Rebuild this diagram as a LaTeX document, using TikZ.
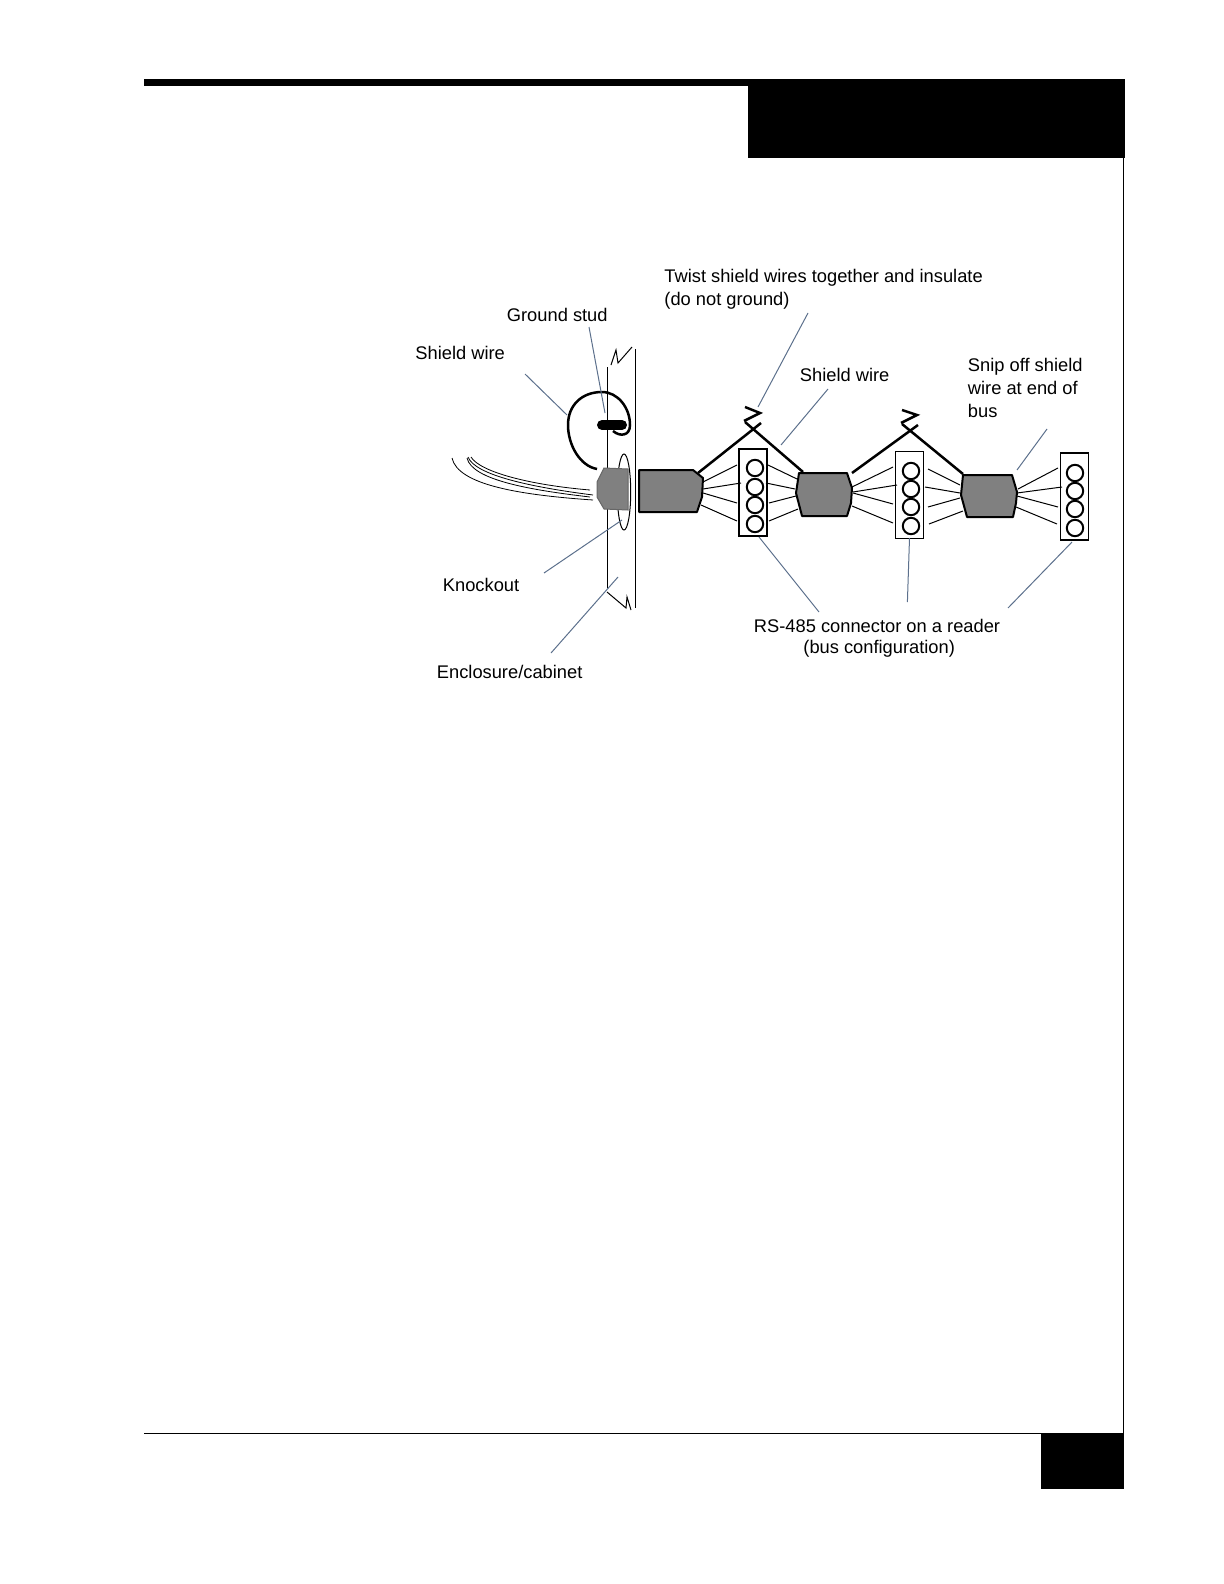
\documentclass[tikz,border=0pt]{standalone}
\usepackage{fontspec}
\setmainfont{Liberation Sans}
\usepackage{tikz}
\usetikzlibrary{shapes.geometric}
\definecolor{leadcol}{RGB}{92,112,140}
\definecolor{plugcol}{RGB}{128,128,128}
\tikzset{
  txt/.style={anchor=base west,inner sep=0pt,font=\fontsize{9.15}{11}\selectfont},
  leader/.style={draw=leadcol,line width=0.5pt},
  frameline/.style={draw=black,line width=0.45pt},
  wire/.style={draw=black,line width=0.5pt},
  strand/.style={draw=black,line width=0.4pt},
  wall/.style={draw=black,line width=0.5pt},
  shieldw/.style={draw=black,line width=1.25pt},
  plug/.style={draw=black,fill=plugcol,line width=1pt,line join=round},
  readerbox/.style={draw=black,line width=0.6pt,minimum width=14pt,minimum height=43.5pt,inner sep=0pt},
  pin/.style={circle,draw=black,line width=1pt,minimum size=8.2pt,inner sep=0pt}
}
\begin{document}
\begin{tikzpicture}[x=0.5pt,y=-0.5pt]
  \useasboundingbox (0,0) rectangle (1224,1584);
  % page frame
  \fill[black] (144,79) rectangle (1125,86);
  \fill[black] (748,86) rectangle (1125,158);
  \fill[black] (1041,1433) rectangle (1124,1489);
  \coordinate (frameA) at (1123.5,158);
  \coordinate (frameB) at (1123.5,1433);
  \coordinate (frameC) at (144,1433);
  \draw[frameline] (frameA) -- (frameB) -- (frameC);

  % labels
  \node[txt] (shieldL) at (415,359) {Shield wire};
  \node[txt] (stud) at (506.5,321) {Ground stud};
  \node[txt] (knock) at (442.5,591) {Knockout};
  \node[txt] (encl) at (436.5,678) {Enclosure/cabinet};
  \node[txt] (twistA) at (664,282) {Twist shield wires together and insulate};
  \node[txt] (twistB) at (664,305) {(do not ground)};
  \node[txt] (shieldM) at (799.5,381) {Shield wire};
  \node[txt] (snipA) at (967.5,371) {Snip off shield};
  \node[txt] (snipB) at (967.5,394) {wire at end of};
  \node[txt] (snipC) at (967.5,417) {bus};
  \node[txt] (rsA) at (753.5,632) {RS-485 connector on a reader};
  \node[txt] (rsB) at (803,653) {(bus configuration)};

  % enclosure wall
  \draw[wall] (607,367) -- (607,588);
  \draw[wall] (635,349) -- (635,608);
  \draw[wall] (611,365) -- (616,350) -- (618,363) -- (632,347);
  \draw[wall] (607,592) -- (626,608) -- (627,597) -- (631,610);
  \draw[wall] (624,492) ellipse [x radius=6.7,y radius=38];

  % strands going in
  \draw[strand] (452,458) .. controls (458,485) and (520,495) .. (593,500);
  \draw[strand] (467,458) .. controls (472,480) and (530,490) .. (590,497);
  \draw[strand] (468,457) .. controls (475,475) and (530,487) .. (593,495);
  \draw[strand] (471,457) .. controls (480,472) and (530,485) .. (590,490);

  % stud and loop
  \draw[shieldw] (597,469) .. controls (580,466) and (568,445) .. (568,425)
    .. controls (568,405) and (582,392) .. (602,392)
    .. controls (618,392) and (630,408) .. (630,425)
    .. controls (630,436) and (620,437) .. (613,431);
  \draw[line width=5pt,line cap=round] (602,425) -- (622,425);

  % cables
  \draw[draw=plugcol!80!black,fill=plugcol,line width=0.5pt] (604,468) -- (628,469) -- (628,510) -- (604,509) -- (597,497) -- (597,482) -- cycle;
  \draw[plug] (639,470) -- (693,470) -- (703,478) -- (702,497) -- (697,512) -- (639,512) -- cycle;
  \draw[plug] (799,473) -- (847,473) -- (852,488) -- (851,503) -- (847,516) -- (802,516) -- (796,493) -- cycle;
  \draw[plug] (963,475) -- (1012,475) -- (1017,492) -- (1016,503) -- (1013,517) -- (967,517) -- (961,495) -- cycle;

  % readers
  \node[readerbox] (readerA) at (753,492.5) {};
  \node[readerbox] (readerB) at (909.5,495) {};
  \node[readerbox] (readerC) at (1074.5,496.5) {};
  \node[pin] (a1) at (755,468) {};
  \node[pin] (a2) at (755,487) {};
  \node[pin] (a3) at (755,505) {};
  \node[pin] (a4) at (755,524) {};
  \node[pin] (b1) at (911,471) {};
  \node[pin] (b2) at (911,489) {};
  \node[pin] (b3) at (911,507) {};
  \node[pin] (b4) at (911,526) {};
  \node[pin] (c1) at (1075,473) {};
  \node[pin] (c2) at (1075,491) {};
  \node[pin] (c3) at (1075,509) {};
  \node[pin] (c4) at (1075,528) {};

  % wires cable 1 to reader A
  \coordinate (p1) at (703,482); \coordinate (q1) at (737,465);
  \coordinate (p2) at (703,489); \coordinate (q2) at (741,483);
  \coordinate (p3) at (703,493); \coordinate (q3) at (737,503);
  \coordinate (p4) at (701,505); \coordinate (q4) at (737,521);
  \draw[wire] (p1) -- (q1);
  \draw[wire] (p2) -- (q2);
  \draw[wire] (p3) -- (q3);
  \draw[wire] (p4) -- (q4);
  % reader A to cable 2
  \coordinate (r1) at (768,465); \coordinate (s1) at (797,479);
  \coordinate (r2) at (766,483); \coordinate (s2) at (795,489);
  \coordinate (r3) at (769,503); \coordinate (s3) at (796,496);
  \coordinate (r4) at (769,521); \coordinate (s4) at (798,509);
  \draw[wire] (r1) -- (s1);
  \draw[wire] (r2) -- (s2);
  \draw[wire] (r3) -- (s3);
  \draw[wire] (r4) -- (s4);
  % cable 2 to reader B
  \coordinate (t1) at (852,487); \coordinate (u1) at (893,467);
  \coordinate (t2) at (853,492); \coordinate (u2) at (897,485);
  \coordinate (t3) at (853,493); \coordinate (u3) at (893,504);
  \coordinate (t4) at (852,506); \coordinate (u4) at (893,523);
  \draw[wire] (t1) -- (u1);
  \draw[wire] (t2) -- (u2);
  \draw[wire] (t3) -- (u3);
  \draw[wire] (t4) -- (u4);
  % reader B to cable 3
  \coordinate (v1) at (928,469); \coordinate (w1) at (960,485);
  \coordinate (v2) at (925,487); \coordinate (w2) at (960,493);
  \coordinate (v3) at (928,507); \coordinate (w3) at (960,498);
  \coordinate (v4) at (929,524); \coordinate (w4) at (963,511);
  \draw[wire] (v1) -- (w1);
  \draw[wire] (v2) -- (w2);
  \draw[wire] (v3) -- (w3);
  \draw[wire] (v4) -- (w4);
  % cable 3 to reader C
  \coordinate (y1) at (1018,489); \coordinate (z1) at (1058,468);
  \coordinate (y2) at (1017,493); \coordinate (z2) at (1062,487);
  \coordinate (y3) at (1017,496); \coordinate (z3) at (1058,507);
  \coordinate (y4) at (1016,507); \coordinate (z4) at (1057,524);
  \draw[wire] (y1) -- (z1);
  \draw[wire] (y2) -- (z2);
  \draw[wire] (y3) -- (z3);
  \draw[wire] (y4) -- (z4);

  % twisted shield wires
  \coordinate (twA) at (761,423);
  \coordinate (twB) at (745,422);
  \coordinate (twC) at (918,425);
  \coordinate (twD) at (902,424);
  \coordinate (cabA) at (698,473);
  \coordinate (cabB) at (803,472);
  \coordinate (cabC) at (852,473);
  \coordinate (cabD) at (963,474);
  \draw[shieldw] (cabA) -- (twA);
  \draw[shieldw] (twB) -- (cabB);
  \draw[shieldw] (cabC) -- (twC);
  \draw[shieldw] (twD) -- (cabD);
  \draw[shieldw] (745,407) -- (760,413) -- (744,421);
  \draw[shieldw] (902,410) -- (917,415) -- (901,423);

  % leaders
  \coordinate (lA1) at (525,374); \coordinate (lA2) at (567,415);
  \coordinate (lB1) at (589,327); \coordinate (lB2) at (605,413);
  \coordinate (lC1) at (544,573); \coordinate (lC2) at (622,520);
  \coordinate (lD1) at (551,653); \coordinate (lD2) at (618,577);
  \coordinate (lE1) at (808,313); \coordinate (lE2) at (758,407);
  \coordinate (lF1) at (828,389); \coordinate (lF2) at (781,445);
  \coordinate (lG1) at (1047,429); \coordinate (lG2) at (1017,470);
  \coordinate (lH1) at (819,612); \coordinate (lH2) at (759,537);
  \coordinate (lI1) at (907.4,602); \coordinate (lI2) at (909.5,538);
  \coordinate (lJ1) at (1008,608); \coordinate (lJ2) at (1072,542);
  \draw[leader] (lA1) -- (lA2);
  \draw[leader] (lB1) -- (lB2);
  \draw[leader] (lC1) -- (lC2);
  \draw[leader] (lD1) -- (lD2);
  \draw[leader] (lE1) -- (lE2);
  \draw[leader] (lF1) -- (lF2);
  \draw[leader] (lG1) -- (lG2);
  \draw[leader] (lH1) -- (lH2);
  \draw[leader] (lI1) -- (lI2);
  \draw[leader] (lJ1) -- (lJ2);
\end{tikzpicture}
\end{document}
